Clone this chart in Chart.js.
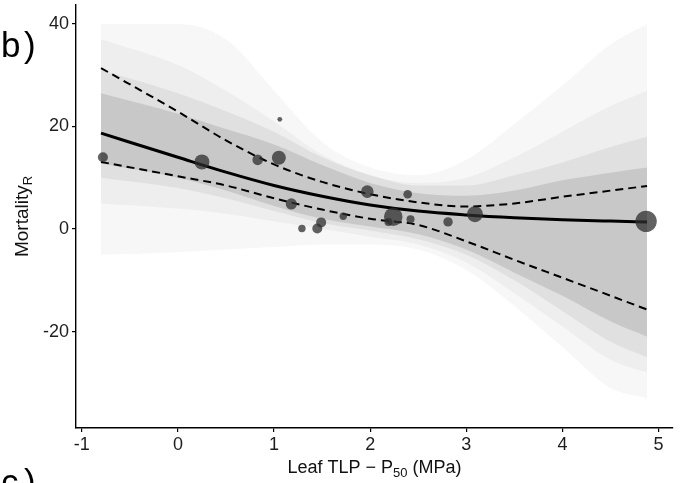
<!DOCTYPE html>
<html lang="en">
<head>
<meta charset="UTF-8">
<title>Mortality vs Leaf TLP - P50</title>
<style>
  html, body { margin: 0; padding: 0; background: #fff; }
  #wrap { width: 686px; height: 483px; position: relative; }
</style>
</head>
<body>
<div id="wrap"><canvas id="myChart" width="686" height="483"></canvas></div>
<script src="https://cdn.jsdelivr.net/npm/chart.js"></script>
<script>
const xTicks = [-1, 0, 1, 2, 3, 4, 5];
const yTicks = [-20, 0, 20, 40];

// sites (bubble size = weight)
const siteX = [-0.78, 0.25, 0.83, 1.06, 1.05, 1.18, 1.29, 1.45, 1.49, 1.72, 1.97, 2.19, 2.24, 2.39, 2.42, 2.81, 3.09, 4.87];
const siteY = [14.0, 13.1, 13.5, 21.4, 13.9, 4.9, 0.1, 0.1, 1.3, 2.5, 7.3, 1.4, 2.4, 6.8, 1.9, 1.4, 2.9, 1.5];
const siteWeight = [5, 7.5, 5.3, 2.4, 7, 5.6, 3.7, 5, 5, 3.7, 6.3, 4, 9.3, 4.3, 4, 4.7, 8, 10.7];

// fitted curve and dashed interval
const fitX = [-0.8, 0, 0.5, 1, 1.5, 2, 2.5, 3, 3.5, 4, 4.5, 4.88];
const fitMean = [18.7, 14.0, 11.1, 8.5, 6.4, 4.7, 3.5, 2.75, 2.2, 1.8, 1.55, 1.4];
const fitUpper = [31.4, 22.9, 17.3, 12.6, 9.2, 6.8, 5.2, 4.4, 5.0, 6.3, 7.5, 8.4];
const fitLower = [13.1, 10.3, 8.5, 6.0, 3.8, 2.0, 0.8, -2.4, -6.0, -9.5, -13.0, -15.7];

// spread of the posterior draws, from faint edge to dense core
const drawOuterUp = [40, 40, 37, 27, 17, 12, 10.5, 13.5, 20.5, 28, 36, 40];
const drawOuterLo = [-5, -4.5, -4, -3.5, -3, -3, -4, -8, -15, -23, -31, -33];
const drawOuter2Up = [37, 32, 27, 21, 14.5, 10.5, 9, 10, 14, 19, 24, 27];
const drawOuter2Lo = [5, 4, 3, 1.5, 0, -1.5, -3, -6.5, -12.5, -19, -25.5, -28];
const drawMidUp = [31, 26.5, 23, 19, 14, 10.5, 8.5, 8.5, 10.5, 13, 16, 18];
const drawMidLo = [10, 8, 6, 3.5, 1.2, -0.3, -2, -5, -10, -16, -22, -25];
const drawDenseUp = [26.5, 22.5, 19.5, 16.5, 12.5, 9, 7, 6.5, 7.5, 9.5, 11, 12];
const drawDenseLo = [12.8, 10, 7.5, 4.5, 2, 0.5, -1, -4, -8.5, -13, -18, -21];

const pts = arr => fitX.map((x, i) => ({ x: x, y: arr[i] }));
const FONT = '"Liberation Sans", Arial, sans-serif';

function band(upper, lower, color, order) {
  return [
    { type: 'line', data: pts(upper), borderWidth: 0, pointRadius: 0, fill: '+1',
      backgroundColor: color, cubicInterpolationMode: 'monotone', order: order },
    { type: 'line', data: pts(lower), borderWidth: 0, pointRadius: 0, fill: false,
      cubicInterpolationMode: 'monotone', order: order }
  ];
}

const textPlugin = {
  id: 'texts',
  afterDraw(chart) {
    const c = chart.ctx;
    const a = chart.chartArea;
    c.save();
    c.fillStyle = '#000';
    c.textBaseline = 'alphabetic';
    c.font = '35px ' + FONT;
    c.fillText('b', 1, 57);
    c.fillText(')', 24, 57);
    c.fillText('c', 1, 494);
    c.fillText(')', 24, 494);

    // x title with subscript
    const big = '18px ' + FONT, small = '13px ' + FONT;
    const p1 = 'Leaf TLP \u2212 P', p2 = '50', p3 = ' (MPa)';
    c.font = big; const w1 = c.measureText(p1).width, w3 = c.measureText(p3).width;
    c.font = small; const w2 = c.measureText(p2).width;
    let x0 = (a.left + a.right) / 2 - (w1 + w2 + w3) / 2;
    const yb = 473;
    c.fillStyle = '#111';
    c.font = big; c.fillText(p1, x0, yb);
    c.font = small; c.fillText(p2, x0 + w1, yb + 4);
    c.font = big; c.fillText(p3, x0 + w1 + w2, yb);

    // y title with subscript
    const ybig = '19px ' + FONT, ysmall = '13px ' + FONT;
    c.translate(28, (a.top + a.bottom) / 2);
    c.rotate(-Math.PI / 2);
    c.font = ybig; const m1 = c.measureText('Mortality').width;
    c.font = ysmall; const m2 = c.measureText('R').width;
    const s = -(m1 + m2) / 2;
    c.font = ybig; c.fillText('Mortality', s, 0);
    c.font = ysmall; c.fillText('R', s + m1, 4);
    c.restore();
  }
};

const ctx = document.getElementById('myChart');
new Chart(ctx, {
  type: 'scatter',
  data: {
    datasets: [
      { type: 'bubble', data: siteX.map((x, i) => ({ x: x, y: siteY[i], r: siteWeight[i] })),
        backgroundColor: 'rgba(45,45,45,0.75)', borderWidth: 0, order: 0 },
      { type: 'line', data: pts(fitMean), borderColor: '#000', borderWidth: 3, pointRadius: 0,
        fill: false, cubicInterpolationMode: 'monotone', order: 1 },
      { type: 'line', data: pts(fitUpper), borderColor: '#000', borderWidth: 2, borderDash: [8, 5],
        pointRadius: 0, fill: false, cubicInterpolationMode: 'monotone', order: 2 },
      { type: 'line', data: pts(fitLower), borderColor: '#000', borderWidth: 2, borderDash: [8, 5],
        pointRadius: 0, fill: false, cubicInterpolationMode: 'monotone', order: 2 },
      ...band(drawDenseUp, drawDenseLo, 'rgb(200,200,200)', 3),
      ...band(drawMidUp, drawMidLo, 'rgb(224,224,224)', 4),
      ...band(drawOuter2Up, drawOuter2Lo, 'rgb(238,238,238)', 5),
      ...band(drawOuterUp, drawOuterLo, 'rgb(247,247,247)', 6)
    ]
  },
  options: {
    responsive: false,
    animation: false,
    events: [],
    layout: { autoPadding: false, padding: { left: 0, right: 13, top: 5, bottom: 0 } },
    plugins: { legend: { display: false }, tooltip: { enabled: false } },
    scales: {
      x: {
        type: 'linear', min: -1.06, max: 5.15,
        afterBuildTicks: s => { s.ticks = xTicks.map(v => ({ value: v })); },
        afterFit: s => { s.height = 55; s.paddingLeft = 0; s.paddingRight = 0; },
        grid: { drawOnChartArea: false, drawTicks: true, tickLength: 4, color: '#000', lineWidth: 1.2 },
        border: { display: true, color: '#000', width: 1.4 },
        ticks: { font: { family: FONT, size: 18 }, color: '#1e1e1e', padding: 2, maxRotation: 0 }
      },
      y: {
        type: 'linear', min: -38.8, max: 43.7,
        afterBuildTicks: s => { s.ticks = yTicks.map(v => ({ value: v })); },
        afterFit: s => { s.width = 76; s.paddingTop = 0; s.paddingBottom = 0; },
        grid: { drawOnChartArea: false, drawTicks: true, tickLength: 4, color: '#000', lineWidth: 1.2 },
        border: { display: true, color: '#000', width: 1.4 },
        ticks: { font: { family: FONT, size: 18 }, color: '#1e1e1e', padding: 3 }
      }
    }
  },
  plugins: [textPlugin]
});
</script>
</body>
</html>
